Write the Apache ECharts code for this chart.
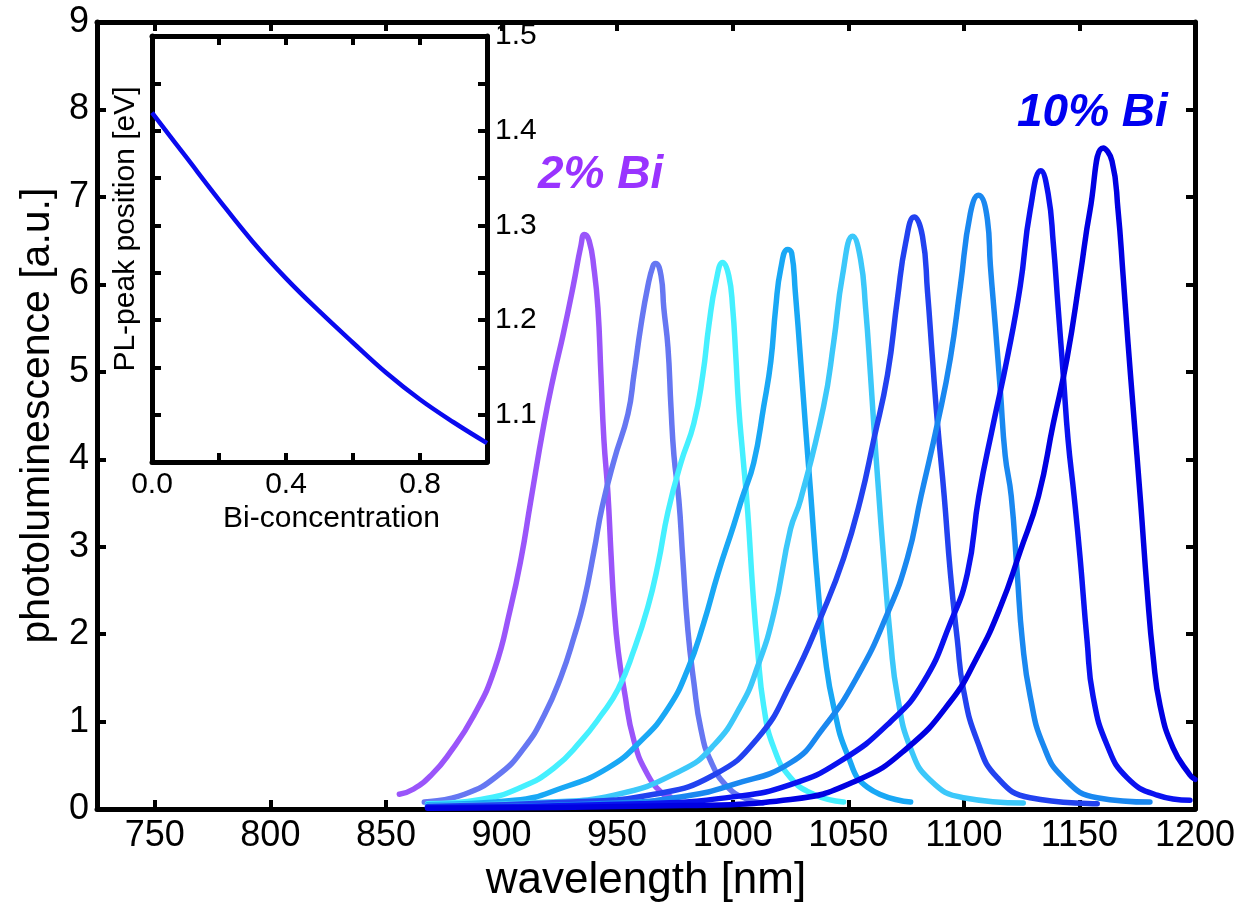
<!DOCTYPE html>
<html>
<head>
<meta charset="utf-8">
<script src="https://cdn.jsdelivr.net/npm/echarts@6/dist/echarts.min.js"></script>
<style>
  html, body { margin: 0; padding: 0; background: #fff; }
  #plChart { width: 1248px; height: 908px; }
</style>
</head>
<body>
<div id="plChart"></div>
<script>
// PL spectra, 2% Bi ... 10% Bi  [wavelength nm, intensity a.u.]
const curve1 = [[855.8,0.17],[862,0.23],[870,0.40],[877,0.62],[888,1.07],[897,1.60],[904,2.31],[908.5,2.87],[912.5,3.5],[918.4,4.41],[922.7,4.97],[926.6,5.42],[931,5.98],[934.4,6.45],[935.8,6.57],[937.9,6.5],[940,6.18],[941.7,5.73],[943,4.97],[944.3,4.22],[946,3.62],[947.4,2.9],[948.7,2.31],[950.5,1.8],[953,1.37],[957.3,0.78],[963.3,0.39],[970,0.17],[973,0.14]];
const curve2 = [[866.6,0.08],[884,0.17],[898.6,0.39],[909.8,0.70],[918.4,1.07],[925.8,1.52],[931.4,1.97],[935.7,2.38],[940,2.95],[943.5,3.45],[948.7,3.99],[954.7,4.52],[957.3,4.97],[960.3,5.53],[963.3,5.98],[965.5,6.21],[966.6,6.24],[969,6.10],[970.2,5.73],[972,5.28],[973.3,4.60],[974.6,4.04],[976.7,3.54],[978.4,2.87],[980.6,2.05],[983.2,1.45],[986.2,0.92],[990.5,0.55],[997.9,0.25],[1006.5,0.11],[1013,0.07]];
const curve3 = [[868,0.06],[891,0.11],[908.5,0.25],[922.7,0.47],[934.4,0.78],[943,1.07],[950.4,1.37],[957.3,1.82],[963.3,2.31],[967.7,2.80],[972,3.4],[977.6,3.96],[983.2,4.41],[987.1,4.97],[989.7,5.53],[992.7,6.02],[995.7,6.25],[998.3,6.10],[1000,5.73],[1001.3,5.20],[1002.6,4.60],[1004.4,4.04],[1006.5,3.40],[1008.7,2.50],[1010.8,1.82],[1013.4,1.18],[1017.8,0.70],[1025,0.36],[1035,0.17],[1048,0.08]];
const curve4 = [[868,0.05],[905.5,0.10],[927,0.25],[946,0.47],[960.3,0.78],[972,1.15],[980.6,1.60],[987.5,2.13],[993.6,2.69],[1000.5,3.25],[1004,3.55],[1009.1,3.96],[1013.4,4.60],[1016.5,5.12],[1018.6,5.73],[1020.8,6.18],[1023.8,6.40],[1025.5,6.36],[1027.1,5.91],[1029.3,5.16],[1031.4,4.41],[1033.6,3.66],[1037,2.50],[1040,1.74],[1043.6,1.18],[1049.7,0.62],[1058.3,0.25],[1077,0.08]];
const curve5 = [[868,0.04],[920,0.08],[948.7,0.16],[977.6,0.44],[991.8,0.73],[1003.5,1.18],[1010.8,1.63],[1017.8,2.24],[1025,3.2],[1029.4,3.54],[1039.3,4.60],[1043.7,5.34],[1047.5,6.10],[1051.9,6.55],[1055.3,6.29],[1057.5,5.73],[1059.6,4.97],[1061,4.41],[1063.1,3.64],[1065.3,2.87],[1068.3,1.93],[1071.3,1.29],[1076.9,0.70],[1085.5,0.33],[1099.8,0.13],[1125.7,0.07]];
const curve6 = [[868,0.03],[930,0.08],[966,0.17],[991.8,0.39],[1010.8,0.81],[1025,1.43],[1039.3,2.27],[1048,2.87],[1055.3,3.54],[1061,4.22],[1067,4.97],[1071.3,5.84],[1074.8,6.47],[1078.5,6.77],[1082.1,6.55],[1084.3,5.91],[1086.4,5.16],[1088.6,4.41],[1091.5,3.58],[1094.2,2.69],[1097.2,1.93],[1099.8,1.37],[1105.8,0.78],[1114.5,0.36],[1128.7,0.13],[1157.7,0.06]];
const curve7 = [[868,0.02],[950,0.07],[980,0.15],[1000,0.28],[1025,0.53],[1039,0.92],[1054,1.52],[1067,2.24],[1075.6,2.87],[1081.5,3.58],[1088.6,4.41],[1094.2,5.16],[1098.5,5.98],[1102.8,6.81],[1106.3,7.02],[1110.2,6.74],[1111.5,6.21],[1113.6,5.53],[1115.8,4.78],[1117.9,4.04],[1120.5,3.58],[1123.1,2.69],[1125.3,1.93],[1128.7,1.29],[1134.4,0.73],[1143,0.36],[1157.7,0.13],[1180.5,0.08]];
const curve8 = [[868,0.02],[960,0.06],[1000,0.14],[1025,0.28],[1046.7,0.55],[1068.3,1.00],[1082.5,1.45],[1094.2,2.13],[1101.5,2.69],[1106.5,3.58],[1112.8,4.41],[1118.8,5.16],[1124.4,5.98],[1128.7,6.85],[1133.3,7.30],[1136.5,7.03],[1138.7,6.47],[1140.8,5.73],[1143,4.97],[1145.1,4.22],[1147.7,3.58],[1150.3,2.87],[1153.3,1.93],[1155.9,1.29],[1162,0.73],[1170.6,0.36],[1183.6,0.16],[1197.8,0.10]];
const curve9 = [[868,0.01],[980,0.04],[1025,0.11],[1054,0.33],[1075.6,0.70],[1094.2,1.23],[1105.8,1.74],[1115.8,2.31],[1124.4,2.95],[1132.3,3.58],[1138.7,4.41],[1144.7,5.16],[1150.3,6.10],[1154.6,6.85],[1160.3,7.56],[1164.1,7.41],[1166.7,6.85],[1168.9,6.10],[1171,5.34],[1173.2,4.60],[1176.5,3.5],[1179.3,2.50],[1181.9,1.74],[1184.9,1.18],[1190.5,0.70],[1197.8,0.39],[1200,0.34]];

const curveColors = ['#9a55fa', '#6677f2', '#45f0ff', '#19a8f5', '#3cc8fa', '#2242f0', '#1a88f0', '#0a12f0', '#0000e2'];

// inset: PL peak vs Bi concentration
const biConc = [0, 0.1, 0.2, 0.3, 0.4, 0.5, 0.6, 0.7, 0.8, 0.9, 1.0];
const peakEv = [1.419, 1.373, 1.327, 1.283, 1.244, 1.209, 1.176, 1.144, 1.116, 1.092, 1.070];

const FONT = 'Liberation Sans, Arial, sans-serif';
const axisLineStyle = { lineStyle: { color: '#000', width: 5 } };
const tickStyle = { inside: true, length: 9, lineStyle: { color: '#000', width: 4 } };

const chart = echarts.init(document.getElementById('plChart'));

const spectra = [curve1, curve2, curve3, curve4, curve5, curve6, curve7, curve8, curve9];
const series = spectra.map((d, i) => ({
  type: 'line',
  xAxisIndex: 0,
  yAxisIndex: 0,
  data: d,
  showSymbol: false,
  smooth: 0.5,
  lineStyle: { color: curveColors[i], width: 5.5, cap: 'round' },
  z: 2 + i,
}));

series.push({
  type: 'line',
  xAxisIndex: 2,
  yAxisIndex: 2,
  data: biConc.map((c, i) => [c, peakEv[i]]),
  showSymbol: false,
  smooth: 0.4,
  lineStyle: { color: '#0a0aef', width: 4.5 },
  z: 20,
});

chart.setOption({
  backgroundColor: '#fff',
  animation: false,
  grid: [
    { left: 97, right: 53, top: 22, bottom: 86 },
    { left: 152, width: 335, top: 36, height: 426, z: 10 },
  ],
  xAxis: [
    {
      type: 'value', gridIndex: 0, position: 'bottom',
      min: 725, max: 1200, minInterval: 50, maxInterval: 50,
      axisLine: { onZero: false, ...axisLineStyle },
      axisTick: tickStyle,
      splitLine: { show: false },
      axisLabel: {
        fontSize: 36, color: '#000', fontFamily: FONT, margin: 9,
        formatter: (v) => (v % 50 === 0 ? String(v) : ''),
      },
      name: 'wavelength [nm]', nameLocation: 'middle', nameGap: 40,
      nameTextStyle: { fontSize: 44, color: '#000', fontFamily: FONT },
    },
    {
      type: 'value', gridIndex: 0, position: 'top',
      min: 725, max: 1200, minInterval: 50, maxInterval: 50,
      axisLine: { onZero: false, ...axisLineStyle },
      axisTick: tickStyle,
      axisLabel: { show: false },
      splitLine: { show: false },
    },
    {
      type: 'value', gridIndex: 1, position: 'bottom',
      min: 0, max: 1, interval: 0.2,
      axisLine: { onZero: false, ...axisLineStyle },
      axisTick: tickStyle,
      splitLine: { show: false },
      axisLabel: {
        fontSize: 30, color: '#000', fontFamily: FONT, margin: 8,
        formatter: (v) => ([0, 0.4, 0.8].some((t) => Math.abs(t - v) < 1e-6) ? v.toFixed(1) : ''),
      },
      name: 'Bi-concentration', nameLocation: 'middle', nameGap: 42,
      nameTextStyle: { fontSize: 30, color: '#000', fontFamily: FONT, padding: [0, 0, 0, 24] },
    },
    {
      type: 'value', gridIndex: 1, position: 'top',
      min: 0, max: 1, interval: 0.2,
      axisLine: { onZero: false, ...axisLineStyle },
      axisTick: tickStyle,
      axisLabel: { show: false },
      splitLine: { show: false },
    },
  ],
  yAxis: [
    {
      type: 'value', gridIndex: 0, position: 'left',
      min: 0, max: 9, interval: 1,
      axisLine: { onZero: false, ...axisLineStyle },
      axisTick: tickStyle,
      splitLine: { show: false },
      axisLabel: { fontSize: 36, color: '#000', fontFamily: FONT, margin: 8 },
      name: 'photoluminescence [a.u.]', nameLocation: 'middle', nameGap: 38,
      nameTextStyle: { fontSize: 41, color: '#000', fontFamily: FONT },
    },
    {
      type: 'value', gridIndex: 0, position: 'right',
      min: 0, max: 9, interval: 1,
      axisLine: { onZero: false, ...axisLineStyle },
      axisTick: tickStyle,
      axisLabel: { show: false },
      splitLine: { show: false },
    },
    {
      type: 'value', gridIndex: 1, position: 'right',
      min: 1.05, max: 1.5, interval: 0.05,
      axisLine: { onZero: false, ...axisLineStyle },
      axisTick: tickStyle,
      splitLine: { show: false },
      axisLabel: {
        fontSize: 30, color: '#000', fontFamily: FONT, margin: 8,
        formatter: (v) => {
          const t = Math.round(v * 100);
          return t % 10 === 0 ? (t / 100).toFixed(1) : '';
        },
      },
    },
    {
      type: 'value', gridIndex: 1, position: 'left',
      min: 1.05, max: 1.5, interval: 0.05,
      axisLine: { onZero: false, ...axisLineStyle },
      axisTick: tickStyle,
      axisLabel: { show: false },
      splitLine: { show: false },
      name: 'PL-peak position [eV]', nameLocation: 'middle', nameGap: 11,
      nameTextStyle: { fontSize: 30, color: '#000', fontFamily: FONT, padding: [0, 0, 0, 40] },
    },
  ],
  graphic: [
    {
      type: 'text', x: 538, y: 175, z: 30,
      style: { text: '2% Bi', fill: '#9933ff', font: 'italic bold 46px ' + FONT, verticalAlign: 'middle' },
    },
    {
      type: 'text', x: 1017, y: 113, z: 30,
      style: { text: '10% Bi', fill: '#0000f0', font: 'italic bold 46px ' + FONT, verticalAlign: 'middle' },
    },
  ],
  series: series,
});
</script>
</body>
</html>
